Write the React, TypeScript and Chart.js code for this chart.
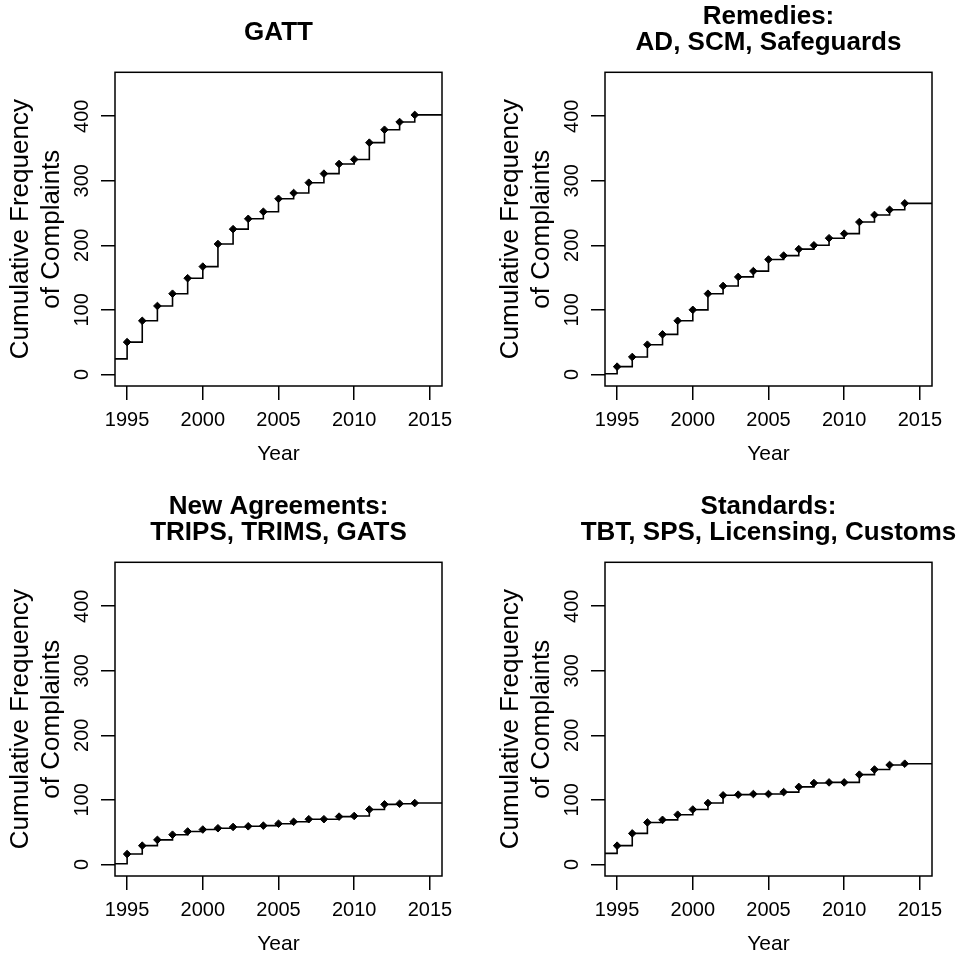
import React, { useEffect, useRef } from "react";
import { Chart, registerables } from "chart.js";

Chart.register(...registerables);

// ---------- data ----------
const YEARS = [1995, 1996, 1997, 1998, 1999, 2000, 2001, 2002, 2003, 2004, 2005, 2006, 2007, 2008, 2009, 2010, 2011, 2012, 2013, 2014];

const GATT_START = 24;
const GATT = [50, 83, 106, 125, 149, 167, 202, 225, 241, 252, 272, 281, 297, 311, 326, 333, 359, 379, 391, 402];

const REMEDIES_START = 1;
const REMEDIES = [12, 27, 46, 62, 83, 100, 125, 137, 151, 160, 178, 184, 194, 200, 211, 218, 236, 247, 255, 265];

const NEW_AGREEMENTS_START = 1;
const NEW_AGREEMENTS = [16, 29, 38, 46, 51, 54, 56, 58, 59, 60, 63, 66, 70, 70, 74, 75, 85, 93, 94, 95];

const STANDARDS_START = 17;
const STANDARDS = [29, 48, 65, 69, 77, 85, 95, 107, 108, 109, 109, 112, 120, 126, 127, 127, 139, 147, 154, 156];

const TITLES = [
  ["GATT"],
  ["Remedies:", "AD, SCM, Safeguards"],
  ["New Agreements:", "TRIPS, TRIMS, GATS"],
  ["Standards:", "TBT, SPS, Licensing, Customs"],
];
const Y_LABEL = ["Cumulative Frequency", "of Complaints"];
const X_LABEL = "Year";

const X_MIN = 1994.2;
const X_MAX = 2015.8;
const Y_MIN = -18;
const Y_MAX = 468;
const X_TICK_STEP = 5;
const Y_TICK_STEP = 100;

// ---------- layout ----------
const FONT = "'Liberation Sans', Arial, Helvetica, sans-serif";
const CANVAS_W = 557;
const CANVAS_H = 467;
const PANEL_POS = [
  { left: 0, top: 0 },
  { left: 490, top: 0 },
  { left: 0, top: 490 },
  { left: 490, top: 490 },
];

const boxPlugin = {
  id: "rbox",
  afterDatasetsDraw(chart: any) {
    const { ctx, chartArea: a } = chart;
    ctx.save();
    ctx.strokeStyle = "#000";
    ctx.lineWidth = 1.5;
    ctx.strokeRect(a.left, a.top, a.right - a.left, a.bottom - a.top);
    ctx.restore();
  },
};

function Panel({ title, start, values, left, top }: { title: string[]; start: number; values: number[]; left: number; top: number }) {
  const ref = useRef<HTMLCanvasElement>(null);
  useEffect(() => {
    if (!ref.current) return;
    const stepPts = [{ x: X_MIN, y: start }, ...YEARS.map((x, i) => ({ x, y: values[i] })), { x: X_MAX, y: values[values.length - 1] }];
    const pts = YEARS.map((x, i) => ({ x, y: values[i] }));
    const oneLine = title.length === 1;
    const chart = new Chart(ref.current, {
      type: "line",
      data: {
        datasets: [
          {
            data: stepPts,
            stepped: true,
            borderColor: "#000",
            borderWidth: 1.6,
            pointRadius: 0,
            fill: false,
          } as any,
          {
            data: pts,
            showLine: false,
            pointStyle: "rectRot",
            pointRadius: 3.8,
            borderWidth: 1,
            borderColor: "#000",
            backgroundColor: "#000",
          } as any,
        ],
      },
      options: {
        responsive: false,
        devicePixelRatio: 1,
        animation: false,
        events: [],
        layout: { padding: 0 },
        plugins: {
          legend: { display: false },
          tooltip: { enabled: false },
          title: {
            display: true,
            text: title,
            color: "#000",
            font: { family: FONT, size: 26, weight: "bold", lineHeight: "25.5px" },
            padding: oneLine ? { top: 19.75, bottom: 27.05 } : { top: 4.25, bottom: 17.05 },
          },
        },
        scales: {
          x: {
            type: "linear",
            position: "bottom",
            min: X_MIN,
            max: X_MAX,
            ticks: {
              stepSize: X_TICK_STEP,
              includeBounds: false,
              autoSkip: false,
              maxRotation: 0,
              minRotation: 0,
              padding: 8,
              color: "#000",
              font: { family: FONT, size: 20 },
              callback: (v: any) => String(v),
            },
            grid: { display: true, drawOnChartArea: false, drawTicks: true, tickLength: 14, color: "#000", lineWidth: 1.5 },
            border: { display: false },
            title: { display: true, text: X_LABEL, color: "#000", font: { family: FONT, size: 21, lineHeight: 1.2 }, padding: { top: 0, bottom: 0.5 } },
            afterFit: (s: any) => {
              s.height = 81;
              s.paddingLeft = 0;
              s.paddingRight = 0;
            },
          },
          y: {
            type: "linear",
            position: "left",
            min: Y_MIN,
            max: Y_MAX,
            ticks: {
              stepSize: Y_TICK_STEP,
              includeBounds: false,
              autoSkip: false,
              minRotation: 90,
              maxRotation: 90,
              crossAlign: "center",
              padding: 2,
              color: "#000",
              font: { family: FONT, size: 20 },
              callback: (v: any) => String(v),
            },
            grid: { display: true, drawOnChartArea: false, drawTicks: true, tickLength: 14, color: "#000", lineWidth: 1.5 },
            border: { display: false },
            title: { display: true, text: Y_LABEL, color: "#000", font: { family: FONT, size: 26, lineHeight: "31.5px" }, padding: { top: 5, bottom: 0 } },
            afterFit: (s: any) => {
              s.width = 115;
              s.paddingTop = 0;
              s.paddingBottom = 0;
            },
          },
          yR: {
            type: "linear",
            position: "right",
            display: true,
            grid: { display: false },
            ticks: { display: false },
            border: { display: false },
            title: { display: false },
            afterFit: (s: any) => {
              s.width = 115;
              s.paddingTop = 0;
              s.paddingBottom = 0;
            },
          },
        },
      } as any,
      plugins: [boxPlugin],
    });
    return () => chart.destroy();
  }, [title, start, values]);
  return (
    <canvas
      ref={ref}
      width={CANVAS_W}
      height={CANVAS_H}
      style={{ position: "absolute", left, top, width: CANVAS_W, height: CANVAS_H }}
    />
  );
}

export default function App() {
  const series = [
    { start: GATT_START, values: GATT },
    { start: REMEDIES_START, values: REMEDIES },
    { start: NEW_AGREEMENTS_START, values: NEW_AGREEMENTS },
    { start: STANDARDS_START, values: STANDARDS },
  ];
  return (
    <div style={{ position: "absolute", left: 0, top: 0, width: 971, height: 957, overflow: "hidden", background: "#fff" }}>
      {series.map((s, i) => (
        <Panel key={i} title={TITLES[i]} start={s.start} values={s.values} left={PANEL_POS[i].left} top={PANEL_POS[i].top} />
      ))}
    </div>
  );
}
